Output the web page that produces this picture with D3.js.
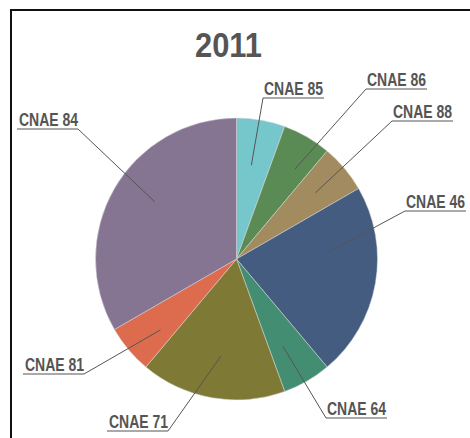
<!DOCTYPE html>
<html>
<head>
<meta charset="utf-8">
<script src="https://cdn.jsdelivr.net/npm/d3@7"></script>
<style>
  html, body { margin: 0; padding: 0; background: #fff; }
  svg { display: block; }
  text { font-family: "Liberation Sans", Arial, sans-serif; font-weight: bold; fill: #555; }
</style>
</head>
<body>
<svg id="chart" width="470" height="438"></svg>
<script>
// ---- data ----
const title = "2011";
const categories = ["CNAE 85", "CNAE 86", "CNAE 88", "CNAE 46", "CNAE 64", "CNAE 71", "CNAE 81", "CNAE 84"];
const values = [1, 1, 1, 4, 1, 3, 1, 6];
const colors = ["#76c7cc", "#5a8b54", "#a18b5f", "#435c80", "#438d72", "#7e7a35", "#dd6b4d", "#857593"];

// ---- label layout (annotation placement, separate from data) ----
// [elbow x, underline y, side (1 right / -1 left), leader inner radius, leader angle offset (deg)]
const labelLayout = [
  [263, 98, 1, 95, -1],
  [366, 89, 1, 107, 3],
  [392, 121, 1, 103, 0],
  [405, 211, 1, 93, -14.5],
  [326, 418, 1, 99, 2],
  [168, 431, -1, 98, -1],
  [84, 374, -1, 104, -3],
  [78, 129, -1, 100, 5]
];

const svg = d3.select("#chart");
const W = 470, H = 438;
const cx = 236.5, cy = 259, R = 141;

// frame (top and left edges visible)
svg.append("path")
  .attr("d", `M11,${H} L11,10 L${W},10`)
  .attr("fill", "none")
  .attr("stroke", "#111")
  .attr("stroke-width", 2);

svg.append("text")
  .attr("x", 228.5)
  .attr("y", 57)
  .attr("text-anchor", "middle")
  .attr("textLength", 67)
  .attr("lengthAdjust", "spacingAndGlyphs")
  .style("font-size", "35px")
  .text(title);

const pie = d3.pie().sort(null).value(d => d)(values);
const arc = d3.arc().innerRadius(0).outerRadius(R);

const g = svg.append("g").attr("transform", `translate(${cx},${cy})`);
g.selectAll("path.slice")
  .data(pie)
  .join("path")
  .attr("class", "slice")
  .attr("d", arc)
  .attr("fill", (d, i) => colors[i])
  .attr("stroke", "#d8d8d8")
  .attr("stroke-width", 0.5);

const labelW = 61;
pie.forEach((d, i) => {
  const [ex, ey, side, rr, off] = labelLayout[i];
  const a = (d.startAngle + d.endAngle) / 2 + off * Math.PI / 180;
  const x0 = cx + rr * Math.sin(a), y0 = cy - rr * Math.cos(a);
  const x2 = ex + side * labelW;
  svg.append("polyline")
    .attr("points", `${x0},${y0} ${ex},${ey} ${x2},${ey}`)
    .attr("fill", "none")
    .attr("stroke", "#555")
    .attr("stroke-width", 1);
  const tx = side === 1 ? x2 - 1 : x2 + 2;
  svg.append("text")
    .attr("x", tx)
    .attr("y", ey - 3.5)
    .attr("text-anchor", side === 1 ? "end" : "start")
    .attr("textLength", 59)
    .attr("lengthAdjust", "spacingAndGlyphs")
    .style("font-size", "18px")
    .text(categories[i]);
});
</script>
</body>
</html>
